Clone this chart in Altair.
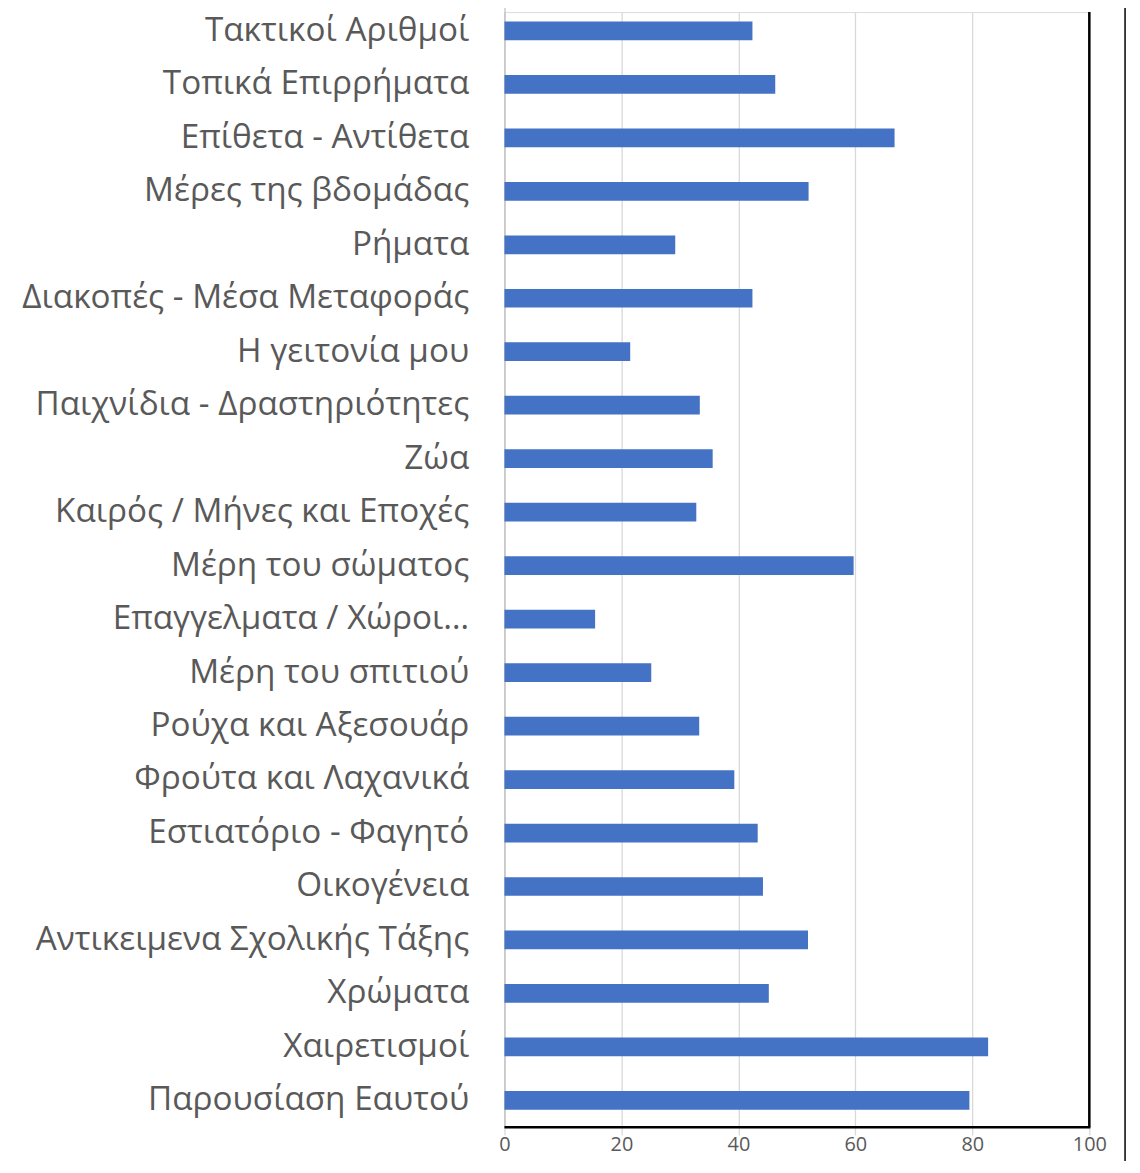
import altair as alt
import pandas as pd

categories = [
    "Τακτικοί Αριθμοί",
    "Τοπικά Επιρρήματα",
    "Επίθετα - Αντίθετα",
    "Μέρες της βδομάδας",
    "Ρήματα",
    "Διακοπές - Μέσα Μεταφοράς",
    "Η γειτονία μου",
    "Παιχνίδια - Δραστηριότητες",
    "Ζώα\u00a0",
    "Καιρός / Μήνες και Εποχές",
    "Μέρη του σώματος",
    "Επαγγελματα / Χώροι…",
    "Μέρη του σπιτιού",
    "Ρούχα και Αξεσουάρ",
    "Φρούτα και Λαχανικά",
    "Εστιατόριο - Φαγητό",
    "Οικογένεια",
    "Αντικειμενα Σχολικής Τάξης",
    "Χρώματα",
    "Χαιρετισμοί",
    "Παρουσίαση Εαυτού",
]
values = [42.4, 46.3, 66.7, 52.0, 29.2, 42.4, 21.5, 33.4, 35.6, 32.8, 59.7,
          15.5, 25.1, 33.3, 39.3, 43.3, 44.2, 51.9, 45.2, 82.7, 79.5]
x_ticks = [0, 20, 40, 60, 80, 100]

df = pd.DataFrame({"category": categories, "value": values})

W, H = 589, 1123
TEXT = "#595959"

bars = alt.Chart(df).mark_bar(color="#4472C4").encode(
    x=alt.X(
        "value:Q",
        scale=alt.Scale(domain=[0, 100], nice=False),
        axis=alt.Axis(
            values=x_ticks, title=None, grid=True, gridColor="#d9d9d9",
            gridWidth=1.3, domain=False, ticks=False, labelPadding=8,
            labelFlush=False, labelFontSize=20, labelColor=TEXT,
            labelFont="Open Sans",
        ),
    ),
    y=alt.Y(
        "category:N",
        sort=categories,
        scale=alt.Scale(domain=categories, range=[-8, H],
                        paddingInner=0.65, paddingOuter=0.325),
        axis=alt.Axis(
            title=None, ticks=False, domain=True, domainColor="#bfbfbf",
            domainWidth=1.2, labelPadding=36, labelFontSize=33.5,
            labelColor=TEXT, labelFont="Open Sans", labelLimit=700,
            grid=False,
        ),
    ),
)

one = pd.DataFrame({"a": [0]})
right_border = alt.Chart(one).mark_rule(color="black", strokeWidth=2.5).encode(
    x=alt.value(W), y=alt.value(0), y2=alt.value(H)
)
bottom_border = alt.Chart(one).mark_rule(color="black", strokeWidth=2.5).encode(
    x=alt.value(0), x2=alt.value(W + 1), y=alt.value(H)
)
outer_line = alt.Chart(one).mark_rule(color="black", strokeWidth=1.5).encode(
    x=alt.value(625), y=alt.value(-8), y2=alt.value(1170)
)

chart = alt.layer(bars, right_border, bottom_border, outer_line).properties(
    width=W, height=H,
    autosize=alt.AutoSizeParams(type="none"),
    padding={"left": 500, "top": 0, "right": 43, "bottom": 30},
).configure_view(strokeWidth=0).configure(background="white")

chart.save("out.html", embed_options={"renderer": "svg", "actions": False})
